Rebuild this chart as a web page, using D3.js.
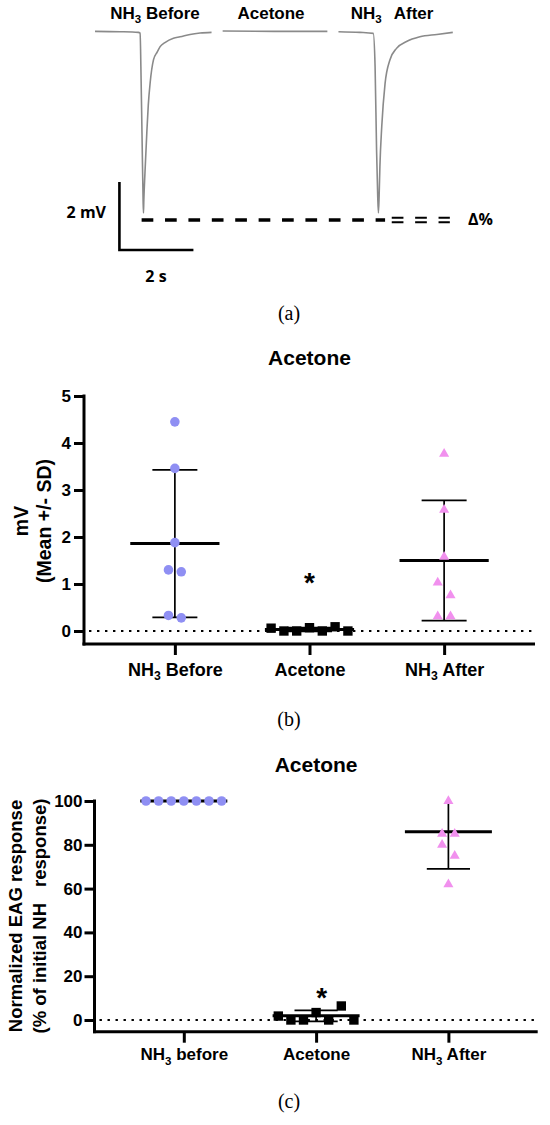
<!DOCTYPE html>
<html>
<head>
<meta charset="utf-8">
<title>Acetone EAG responses</title>
<script src="https://cdn.jsdelivr.net/npm/d3@7"></script>
<style>
  body { margin: 0; background: #fff; }
  svg text { font-family: "Liberation Sans", Arial, Helvetica, sans-serif; }
</style>
</head>
<body>
<svg id="figure" width="550" height="1125"></svg>
<script>
'use strict';

// (a) example EAG traces: time in s, response in mV
var beforeTime = [0, 0.68, 1.17, 1.22, 1.24, 1.27, 1.30, 1.31, 1.32, 1.35, 1.40, 1.44, 1.49, 1.58, 1.68, 1.76, 1.89, 2.12, 2.30, 2.57, 2.84, 3.15];
var beforeMV = [0.01, 0.00, -0.02, -0.04, -1.03, -2.98, -4.95, -5.33, -4.95, -4.16, -2.98, -2.16, -1.51, -0.83, -0.60, -0.44, -0.32, -0.19, -0.15, -0.08, -0.04, -0.02];
var acetoneTime = [3.45, 4.86, 6.28];
var acetoneMV = [0.02, 0.01, 0.01];
var afterTime = [6.58, 7.16, 7.52, 7.57, 7.61, 7.64, 7.66, 7.68, 7.70, 7.75, 7.84, 7.97, 8.15, 8.42, 8.78, 9.24, 9.67];
var afterMV = [0.00, -0.02, -0.05, -1.03, -3.48, -4.80, -5.33, -4.80, -3.97, -2.79, -1.52, -0.83, -0.49, -0.29, -0.15, -0.08, -0.02];
var traceLabels = ['NH3 Before', 'Acetone', 'NH3 After'];
var refLevel = -5.54;   // dashed reference line, mV
var scaleBarSec = 2;
var scaleBarMV = 2;

// (b) raw responses, mV
var groupsB = ['NH3 Before', 'Acetone', 'NH3 After'];
var mvBefore = [4.45, 3.46, 1.88, 1.30, 1.26, 0.33, 0.28];
var mvAcetone = [0.06, 0.00, 0.00, 0.07, 0.00, 0.09, 0.00];
var mvAfter = [3.77, 2.58, 1.58, 1.03, 0.76, 0.31, 0.31];
var mvMean = [1.86, 0.03, 1.50];
var mvSD = [1.57, 0.04, 1.28];
var mvTicks = [0, 1, 2, 3, 4, 5];

// (c) normalized responses, % of initial NH3 response
var groupsC = ['NH3 before', 'Acetone', 'NH3 After'];
var pctBefore = [100, 100, 100, 100, 100, 100, 100];
var pctAcetone = [1.8, 0, 0, 3.4, 0, 6.4, 0];
var pctAfter = [100, 85, 85, 80, 75, 62];
var pctMean = [100, 1.9, 86];
var pctSD = [0, 2.5, 17];
var pctTicks = [0, 20, 40, 60, 80, 100];

// horizontal spread of tied points (layout only)
var slotsB = [[0, 0, 0, -1, 1, -1, 1], [-6, -4, -2, 0, 2, 4, 6], [0, 0, 0, -1, 1, -1, 1]];
var slotsC = [[-6, -4, -2, 0, 2, 4, 6], [-6, -4, -2, 0, 2, 4, 6], [0, -1, 1, -1, 1, 0]];

var svg = d3.select('#figure');
svg.append('rect').attr('width', 550).attr('height', 1125).attr('fill', '#fff');

var symbols = [
  d3.symbol().type(d3.symbolCircle).size(72)(),
  d3.symbol().type(d3.symbolSquare).size(88)(),
  d3.symbol().type(d3.symbolTriangle).size(44)()
];
var colors = ['#8f8ff3', '#000', '#f190ee'];

// writes "NH3 ..." with a subscript 3
function subLabel(sel, label, fs, gap) {
  var m = label.match(/^NH3(\s.*)$/);
  sel.text(null);
  if (!m) {
    sel.text(label);
    return;
  }
  sel.append('tspan').text('NH');
  sel.append('tspan').attr('dy', fs * 0.26).attr('font-size', fs * 0.68).text('3');
  sel.append('tspan').attr('dy', -fs * 0.26).attr('dx', gap || 0).text(m[1]);
}

// ---------- (a) traces ----------
var tx = d3.scaleLinear().domain([0, 10]).range([95, 465]);
var ty = d3.scaleLinear().domain([0, -6]).range([31.7, 235.7]);

var traceLine = d3.line()
  .x(function(d) { return tx(d[0]); })
  .y(function(d) { return ty(d[1]); })
  .curve(d3.curveMonotoneX);

[[beforeTime, beforeMV], [acetoneTime, acetoneMV], [afterTime, afterMV]].forEach(function(tr) {
  svg.append('path')
    .datum(d3.zip(tr[0], tr[1]))
    .attr('d', traceLine)
    .attr('fill', 'none')
    .attr('stroke', '#8a8a8a')
    .attr('stroke-width', 1.6);
});

var labelX = [155, 271, 392];
traceLabels.forEach(function(l, i) {
  var t = svg.append('text')
    .attr('x', labelX[i])
    .attr('y', 18.5)
    .attr('text-anchor', 'middle')
    .attr('font-size', 17)
    .attr('font-weight', 'bold');
  subLabel(t, l, 17, i === 2 ? 8 : 0);
});

// dashed reference at the peak of the first response
svg.append('line')
  .attr('x1', tx(1.26)).attr('x2', tx(7.84))
  .attr('y1', ty(refLevel)).attr('y2', ty(refLevel))
  .attr('stroke', '#000').attr('stroke-width', 3.4)
  .attr('stroke-dasharray', '11.7,11.7');
[-2.3, 2.3].forEach(function(off) {
  svg.append('line')
    .attr('x1', tx(8.02)).attr('x2', tx(9.59))
    .attr('y1', ty(refLevel) + off).attr('y2', ty(refLevel) + off)
    .attr('stroke', '#000').attr('stroke-width', 2)
    .attr('stroke-dasharray', '11.7,11.7');
});

// scale bars
var barT = 0.66, barV = -6.42;
svg.append('path')
  .attr('d', 'M' + tx(barT) + ',' + ty(barV + scaleBarMV) +
    'V' + ty(barV) + 'H' + tx(barT + scaleBarSec))
  .attr('fill', 'none')
  .attr('stroke', '#000')
  .attr('stroke-width', 2.6);

var sbFont = '"Open Sans", "Liberation Sans", sans-serif';
svg.append('text').attr('x', 106).attr('y', 218.3)
  .attr('text-anchor', 'end').attr('font-size', 16).attr('font-weight', 'bold')
  .style('font-family', sbFont).text(scaleBarMV + ' mV');
svg.append('text').attr('x', 156).attr('y', 281.7)
  .attr('text-anchor', 'middle').attr('font-size', 16).attr('font-weight', 'bold')
  .style('font-family', sbFont).text(scaleBarSec + ' s');
svg.append('text').attr('x', 468).attr('y', 225)
  .attr('font-size', 16).attr('font-weight', 'bold')
  .style('font-family', sbFont).text('Δ%');

// ---------- scatter panels ----------
function drawPanel(p) {
  var g = svg.append('g');
  var x = d3.scalePoint().domain(p.groups).range([p.left, p.right]).padding(0.675);
  var y = d3.scaleLinear().domain([0, p.max]).range([p.zeroY, p.topY]);

  g.append('text')
    .attr('x', x(p.groups[1]))
    .attr('y', p.titleY)
    .attr('text-anchor', 'middle')
    .attr('font-size', 21)
    .attr('font-weight', 'bold')
    .text(p.title);

  // y axis
  var ya = g.append('g')
    .attr('transform', 'translate(' + p.left + ',0)')
    .call(d3.axisLeft(y).tickValues(p.ticks).tickFormat(d3.format('d'))
      .tickSize(10).tickPadding(p.tickPad));
  ya.select('.domain').remove();
  ya.selectAll('.tick line').attr('stroke-width', 3);
  ya.selectAll('.tick text')
    .attr('font-size', 17)
    .attr('font-weight', 'bold')
    .attr('fill', '#000');
  ya.append('line')
    .attr('y1', y(p.max) - 1.5).attr('y2', p.axisY + 1.5)
    .attr('stroke', '#000').attr('stroke-width', 3);

  // x axis
  var xa = g.append('g')
    .attr('transform', 'translate(0,' + p.axisY + ')')
    .call(d3.axisBottom(x).tickSize(11).tickPadding(p.labelPad));
  xa.select('.domain').remove();
  xa.selectAll('.tick line').attr('stroke-width', 3);
  xa.selectAll('.tick text')
    .attr('font-size', p.labelFont)
    .attr('font-weight', 'bold')
    .attr('fill', '#000')
    .each(function(d) { subLabel(d3.select(this), d, p.labelFont, 0); });
  xa.append('line')
    .attr('x1', p.left - 1.5).attr('x2', p.right)
    .attr('stroke', '#000').attr('stroke-width', 3);

  // zero reference
  g.append('line')
    .attr('x1', p.left + 5).attr('x2', p.right)
    .attr('y1', y(0)).attr('y2', y(0))
    .attr('stroke', '#000').attr('stroke-width', 2.2)
    .attr('stroke-dasharray', '2.4,5.6');

  // y label
  p.yLabel.forEach(function(line) {
    var t = g.append('text')
      .attr('transform', 'translate(' + line.x + ',' + p.yLabelY + ') rotate(-90)')
      .attr('dy', '0.35em')
      .attr('text-anchor', 'middle')
      .attr('font-size', p.yLabelFont)
      .attr('font-weight', 'bold');
    line.parts.forEach(function(part, k) {
      t.append('tspan').attr('dx', k ? part.gap : 0).text(part.text);
    });
  });

  // mean and SD
  p.groups.forEach(function(grp, i) {
    var cx = x(grp);
    var m = p.means[i], s = p.sds[i];
    if (s > 0) {
      var hi = Math.min(m + s, p.max);
      g.append('line')
        .attr('x1', cx).attr('x2', cx)
        .attr('y1', y(m - s)).attr('y2', y(hi))
        .attr('stroke', '#000').attr('stroke-width', 1.7);
      var caps = [m - s];
      if (m + s <= p.max) caps.push(m + s);
      caps.forEach(function(c) {
        g.append('line')
          .attr('x1', cx - p.capHalf).attr('x2', cx + p.capHalf)
          .attr('y1', y(c)).attr('y2', y(c))
          .attr('stroke', '#000').attr('stroke-width', 1.7);
      });
    }
    g.append('line')
      .attr('x1', cx - p.meanHalf).attr('x2', cx + p.meanHalf)
      .attr('y1', y(m)).attr('y2', y(m))
      .attr('stroke', '#000').attr('stroke-width', 3);
  });

  // points
  p.groups.forEach(function(grp, i) {
    g.selectAll(null)
      .data(p.values[i])
      .enter()
      .append('path')
      .attr('d', symbols[i])
      .attr('fill', colors[i])
      .attr('transform', function(d, j) {
        return 'translate(' + (x(grp) + p.slots[i][j] * p.slotW) + ',' + y(d) + ')';
      });
  });

  // significance mark
  g.append('text')
    .attr('x', x(p.groups[1]) + p.starDx)
    .attr('y', y(p.starValue) + 16)
    .attr('text-anchor', 'middle')
    .attr('font-size', 28)
    .attr('font-weight', 'bold')
    .text('*');
}

drawPanel({
  groups: groupsB, values: [mvBefore, mvAcetone, mvAfter],
  means: mvMean, sds: mvSD, ticks: mvTicks, slots: slotsB,
  title: 'Acetone', titleY: 365,
  left: 84, right: 535, zeroY: 631, topY: 396, max: 5, axisY: 644,
  tickPad: 3, labelFont: 18, labelPad: 8,
  meanHalf: 44.6, capHalf: 22.5, slotW: 6.4,
  starValue: 1.17, starDx: 0,
  yLabelY: 521, yLabelFont: 19.5,
  yLabel: [
    { x: 21, parts: [{ text: 'mV' }] },
    { x: 44, parts: [{ text: '(Mean +/- SD)' }] }
  ]
});

drawPanel({
  groups: groupsC, values: [pctBefore, pctAcetone, pctAfter],
  means: pctMean, sds: pctSD, ticks: pctTicks, slots: slotsC,
  title: 'Acetone', titleY: 771.5,
  left: 94.5, right: 537.7, zeroY: 1020, topY: 801, max: 100, axisY: 1031.7,
  tickPad: 2, labelFont: 17, labelPad: 5.7,
  meanHalf: 43.5, capHalf: 21.6, slotW: 6.3,
  starValue: 13.2, starDx: 5.5,
  yLabelY: 916, yLabelFont: 18.5,
  yLabel: [
    { x: 15.8, parts: [{ text: 'Normalized EAG response' }] },
    { x: 39.2, parts: [{ text: '(% of initial NH' }, { text: 'response)', gap: 16 }] }
  ]
});

// sub-figure captions
[['(a)', 320], ['(b)', 726], ['(c)', 1108]].forEach(function(c) {
  svg.append('text')
    .attr('x', 289)
    .attr('y', c[1])
    .attr('text-anchor', 'middle')
    .attr('font-size', 20)
    .style('font-family', '"Liberation Serif", "DejaVu Serif", serif')
    .text(c[0]);
});
</script>
</body>
</html>
